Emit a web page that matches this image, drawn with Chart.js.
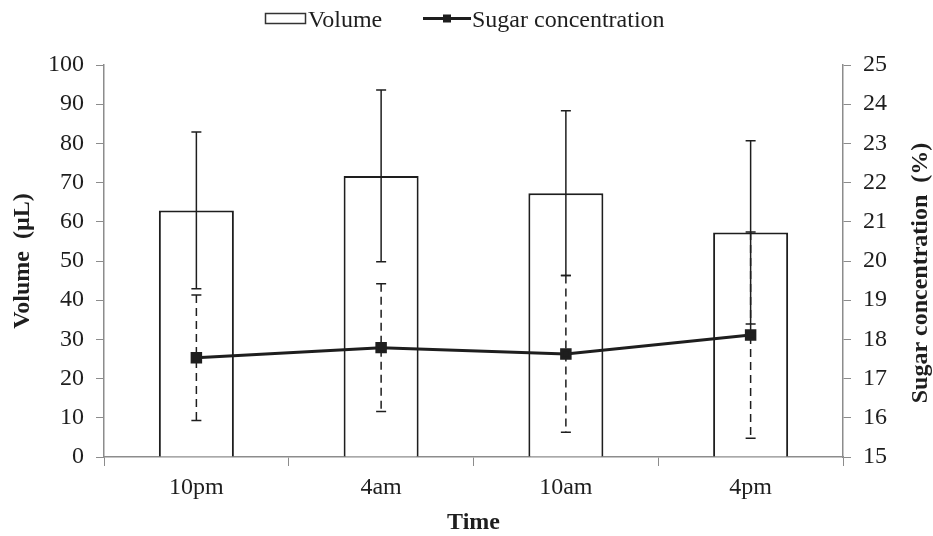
<!DOCTYPE html>
<html>
<head>
<meta charset="utf-8">
<script src="https://cdn.jsdelivr.net/npm/chart.js@4.4.0/dist/chart.umd.min.js"></script>
<style>
  body { margin: 0; background: #fff; }
  canvas { display: block; }
</style>
</head>
<body>
<canvas id="myChart" width="933" height="536"></canvas>
<script>
// data
const categories = ['10pm', '4am', '10am', '4pm'];
const volume = [62.9, 71.7, 67.3, 57.3];
const volumeErr = [20, 21.9, 21, 23.4];
const sugar = [17.53, 17.79, 17.63, 18.11];
const sugarErr = [1.6, 1.63, 2.0, 2.63];
const volumeTicks = [0, 100, 10];
const sugarTicks = [15, 25, 1];

const ink = '#1e1e1e';
const axisGrey = '#8c8c8c';
const serif = 'Liberation Serif';

// error bars, drawn right after the bars so the line sits on top
const errorBars = {
  id: 'errorBars',
  afterDatasetDraw(chart, args) {
    if (args.index !== 0) return;
    const ctx = chart.ctx;
    const x = chart.scales.x, y = chart.scales.y, y1 = chart.scales.y1;
    const cap = 5;
    function bar(px, top, bottom, dash) {
      ctx.save();
      ctx.strokeStyle = ink;
      ctx.lineWidth = 1.5;
      ctx.setLineDash(dash);
      ctx.beginPath();
      ctx.moveTo(px, top);
      ctx.lineTo(px, bottom);
      ctx.stroke();
      ctx.setLineDash([]);
      ctx.beginPath();
      ctx.moveTo(px - cap, top); ctx.lineTo(px + cap, top);
      ctx.moveTo(px - cap, bottom); ctx.lineTo(px + cap, bottom);
      ctx.stroke();
      ctx.restore();
    }
    for (let i = 0; i < categories.length; i++) {
      const px = x.getPixelForValue(i);
      bar(px, y.getPixelForValue(volume[i] + volumeErr[i]), y.getPixelForValue(volume[i] - volumeErr[i]), []);
      bar(px, y1.getPixelForValue(sugar[i] + sugarErr[i]), y1.getPixelForValue(sugar[i] - sugarErr[i]), [8, 5]);
    }
  }
};

// legend across the top + right axis title (reads bottom to top)
const extras = {
  id: 'extras',
  afterDraw(chart) {
    const ctx = chart.ctx;
    const ds = chart.data.datasets;
    ctx.save();
    ctx.font = '24px "' + serif + '"';
    ctx.fillStyle = ink;
    ctx.textBaseline = 'alphabetic';
    // volume: empty box
    ctx.strokeStyle = '#333';
    ctx.lineWidth = 1.5;
    ctx.strokeRect(265.5, 13.5, 40, 10);
    ctx.fillText(ds[0].label, 308, 27);
    // sugar: line with square marker
    ctx.strokeStyle = ink;
    ctx.lineWidth = 3;
    ctx.beginPath();
    ctx.moveTo(423, 18.5);
    ctx.lineTo(471, 18.5);
    ctx.stroke();
    ctx.fillRect(443, 14.5, 8, 8);
    ctx.fillText(ds[1].label, 472, 27);

    const a = chart.chartArea;
    ctx.translate(921, (a.top + a.bottom) / 2 + 12);
    ctx.rotate(-Math.PI / 2);
    ctx.font = 'bold 24px "' + serif + '"';
    ctx.textAlign = 'center';
    ctx.textBaseline = 'middle';
    ctx.fillText('Sugar concentration  (%)', 0, 0);
    ctx.restore();
  }
};

const ctx = document.getElementById('myChart').getContext('2d');
const myChart = new Chart(ctx, {
  type: 'bar',
  data: {
    labels: categories,
    datasets: [{
      type: 'bar',
      label: 'Volume',
      data: volume,
      yAxisID: 'y',
      backgroundColor: '#ffffff',
      borderColor: ink,
      borderWidth: 2,
      barPercentage: 0.406,
      categoryPercentage: 1,
      order: 2
    }, {
      type: 'line',
      label: 'Sugar concentration',
      data: sugar,
      yAxisID: 'y1',
      borderColor: ink,
      backgroundColor: ink,
      borderWidth: 3,
      pointStyle: 'rect',
      pointRadius: 6,
      pointHoverRadius: 6,
      tension: 0,
      order: 1
    }]
  },
  options: {
    responsive: false,
    animation: false,
    layout: { padding: { top: 65, left: 0, right: 0, bottom: 0 } },
    plugins: {
      legend: { display: false },
      tooltip: { enabled: false }
    },
    scales: {
      x: {
        afterFit(scale) { scale.height = 79; },
        grid: { drawOnChartArea: false, drawTicks: true, tickLength: 9, color: axisGrey, offset: true },
        border: { display: true, color: axisGrey, width: 1.5 },
        ticks: { color: ink, font: { family: serif, size: 24 }, padding: 7 },
        title: {
          display: true, text: 'Time', color: ink,
          font: { family: serif, size: 24, weight: 'bold', lineHeight: 1 },
          padding: { top: 0, bottom: 1 }
        }
      },
      y: {
        position: 'left',
        min: volumeTicks[0], max: volumeTicks[1],
        afterFit(scale) { scale.width = 104; },
        grid: { drawOnChartArea: false, drawTicks: true, tickLength: 8, color: axisGrey },
        border: { display: true, color: axisGrey, width: 1.5 },
        ticks: { stepSize: volumeTicks[2], color: ink, font: { family: serif, size: 24 }, padding: 12 },
        title: {
          display: true, text: 'Volume  (\u00b5L)', color: ink,
          font: { family: serif, size: 24, weight: 'bold', lineHeight: 1 },
          padding: { top: 11, bottom: 0 }
        }
      },
      y1: {
        position: 'right',
        min: sugarTicks[0], max: sugarTicks[1],
        afterFit(scale) { scale.width = 90; },
        grid: { drawOnChartArea: false, drawTicks: true, tickLength: 8, color: axisGrey },
        border: { display: true, color: axisGrey, width: 1.5 },
        ticks: { stepSize: sugarTicks[2], color: ink, font: { family: serif, size: 24 }, padding: 12 }
      }
    }
  },
  plugins: [errorBars, extras]
});
</script>
</body>
</html>
